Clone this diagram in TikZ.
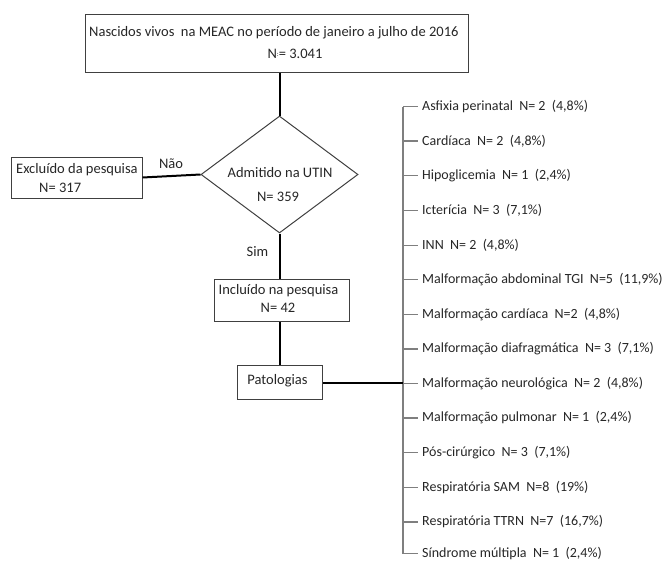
\documentclass[tikz,border=0pt]{standalone}
\usepackage{fontspec}
\setmainfont{Carlito}
\usetikzlibrary{shapes.geometric}
\definecolor{txt}{HTML}{262626}
\definecolor{boxline}{HTML}{404040}
\definecolor{listline}{HTML}{7F7F7F}
\tikzset{
  box/.style={draw=boxline, line width=1pt, rectangle, inner sep=0pt},
  lbl/.style={text=txt, inner sep=0pt, font=\fontsize{14.5}{17}\selectfont},
  conn/.style={draw=black, line width=2pt},
  item/.style={text=txt, anchor=west, inner sep=0pt, font=\fontsize{14}{17}\selectfont},
  tick/.style={draw=listline, line width=1.3pt},
}
\begin{document}
\begin{tikzpicture}[x=1pt,y=-1pt]
\useasboundingbox (0,0) rectangle (669,562);
% boxes
\node[box, minimum width=383pt, minimum height=58pt] (top) at (276.5,43) {};
\node[lbl, anchor=west] (topt1) at (89,33) {Nascidos vivos\ \ na MEAC no período de janeiro a julho de 2016};
\node[lbl] (topt2) at (295,54) {N{\raisebox{2pt}{\scriptsize:}}= 3.041};

\node[draw=boxline, line width=1pt, shape=diamond, aspect=1.342, minimum width=157pt, minimum height=117pt, inner sep=0pt] (dia) at (279.5,174.5) {};
\node[lbl] (diat1) at (280,173) {Admitido na UTIN};
\node[lbl] (diat2) at (278,197) {N= 359};

\node[box, minimum width=131pt, minimum height=41pt] (exc) at (76.5,177.5) {};
\node[lbl, anchor=west] (exct1) at (16,170) {Excluído da pesquisa};
\node[lbl, anchor=west] (exct2) at (39,188) {N= 317};

\node[box, minimum width=135pt, minimum height=42pt] (inc) at (281.5,300) {};
\node[lbl] (inct1) at (278.5,291) {Incluído na pesquisa};
\node[lbl] (inct2) at (278,308) {N= 42};

\node[box, minimum width=85pt, minimum height=34pt] (pat) at (280,382.5) {};
\node[lbl] (patt) at (277.5,381) {Patologias};

\node[lbl] (nao) at (171,164) {Não};
\node[lbl] (sim) at (257.5,252) {Sim};

% connectors
\draw[conn] (top.south -| dia.north) -- (dia.north);
\draw[conn] (exc.east) -- (dia.west);
\draw[conn] (dia.south) -- (dia.south |- inc.north);
\draw[conn] (dia.south |- inc.south) -- (dia.south |- pat.north);

% list
\foreach \i/\y/\t in {
 1/106.5/{Asfixia perinatal\ \ N= 2\ \ (4,8\%)},
 2/141/{Cardíaca\ \ N= 2\ \ (4,8\%)},
 3/175.6/{Hipoglicemia\ \ N= 1\ \ (2,4\%)},
 4/210.5/{Icterícia\ \ N= 3\ \ (7,1\%)},
 5/245.3/{INN\ \ N= 2\ \ (4,8\%)},
 6/279.8/{Malformação abdominal TGI\ \ N=5\ \ (11,9\%)},
 7/314.5/{Malformação cardíaca\ \ N=2\ \ (4,8\%)},
 8/349/{Malformação diafragmática\ \ N= 3\ \ (7,1\%)},
 9/383.5/{Malformação neurológica\ \ N= 2\ \ (4,8\%)},
 10/418/{Malformação pulmonar\ \ N= 1\ \ (2,4\%)},
 11/452.8/{Pós-cirúrgico\ \ N= 3\ \ (7,1\%)},
 12/487.5/{Respiratória SAM\ \ N=8\ \ (19\%)},
 13/522/{Respiratória TTRN\ \ N=7\ \ (16,7\%)},
 14/553.5/{Síndrome múltipla\ \ N= 1\ \ (2,4\%)}}{
  \node[item] (it\i) at (422,\y) {\t};
  \coordinate (tk\i) at (403,\y);
  \draw[tick] (tk\i) -- ([xshift=-4pt]it\i.west);
}
\draw[tick] (tk1) -- (tk14);
\draw[conn] (pat.east) -- (pat.east -| tk9);
\end{tikzpicture}
\end{document}
